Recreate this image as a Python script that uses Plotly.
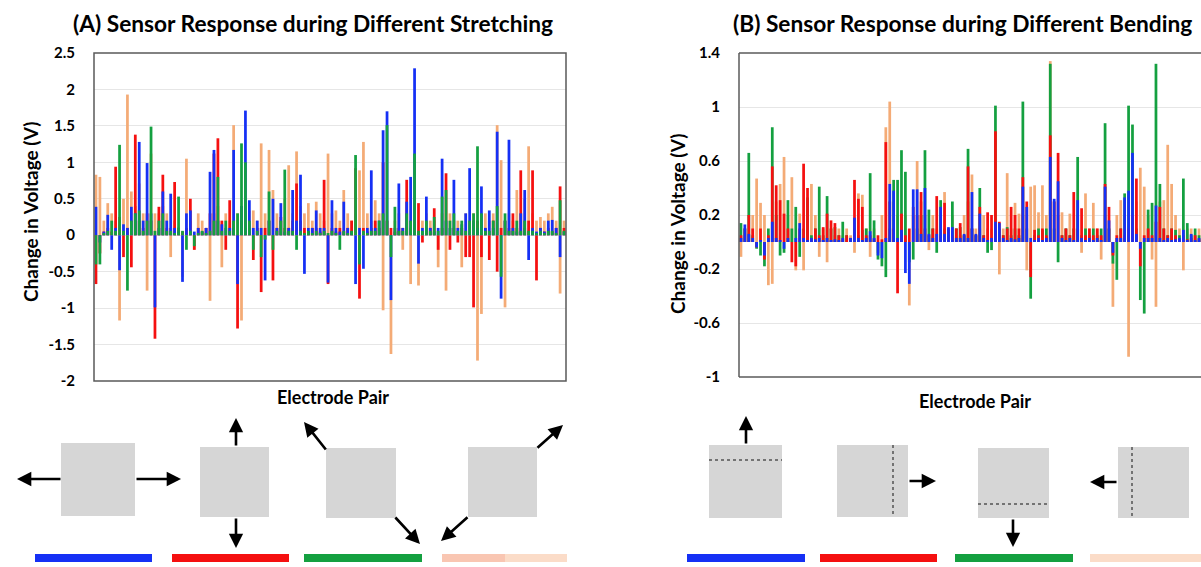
import plotly.graph_objects as go

# ---------------- data ----------------
# Panel A: stretching (120 electrode pairs)
a_blue = [0.39,-0.1,0.05,0.28,-0.2,0.1,-0.48,0.15,0.1,0.39,0.3,1.28,0.2,0.99,0.3,-0.99,0.1,0.6,0.2,0.57,
          0.1,0.05,-0.64,0.3,0.34,0.05,0.1,0.05,0.1,0.87,1.17,0.2,0.15,0.1,0.1,1.17,-0.67,0.4,1.71,0.48,
          0.1,0.2,0.1,-0.62,0.2,0.5,0.1,0.44,0.05,0.1,0.62,0.2,0.83,-0.53,0.1,0.1,0.34,0.1,0.1,-0.65,
          0.48,0.1,0.05,0.46,0.1,0.05,-0.67,0.1,-0.46,0.1,0.89,0.1,0.2,1.44,1.7,-0.89,0.1,0.71,0.1,0.46,
          0.8,2.29,-0.39,0.1,0.53,0.1,0.05,0.1,1.05,0.2,0.1,0.76,0.1,0.15,0.3,0.92,0.2,0.1,0.67,0.1,
          0.34,0.1,1.42,-0.87,0.2,1.31,0.1,0.05,0.3,0.62,-0.34,0.1,0.05,0.1,0.05,0.2,0.21,0.1,-0.3,0.05]
a_red = [-0.67,-0.25,0.05,0.1,0.05,0.94,0.25,-0.3,0.1,-0.44,1.38,0.2,0.1,0.3,0.2,-1.42,0.39,0.83,0.1,0.1,
         0.73,0.1,0.05,0.1,0.5,-0.2,0.1,0.05,0.1,0.3,1.12,1.33,0.2,-0.2,0.48,0.1,-1.28,0.2,0.1,0.1,
         -0.34,0.1,-0.78,0.1,0.2,-0.62,0.1,0.25,0.1,0.1,0.2,0.71,0.2,0.1,0.05,0.1,0.1,0.05,0.76,-0.67,
         0.1,0.05,0.1,0.05,0.1,0.2,0.92,-0.87,0.1,0.05,0.1,0.2,0.1,1.0,0.2,0.1,0.05,0.1,0.1,0.76,
         0.1,0.1,0.44,-0.1,0.1,0.1,0.37,-0.2,0.1,0.85,-0.2,0.1,-0.1,0.1,-0.3,-0.3,-0.99,0.2,-0.3,0.1,
         -0.34,0.2,-0.5,0.1,0.2,0.1,0.3,0.1,0.89,0.1,0.2,0.89,-0.62,0.1,0.05,0.1,0.05,0.1,0.67,0.1]
a_green = [-0.4,-0.4,0.03,0.06,0.2,0.06,1.24,0.06,-0.76,0.2,0.3,0.34,0.06,0.2,1.49,0.06,0.2,0.3,0.06,0.06,
           0.03,0.53,0.06,-0.2,0.06,-0.15,0.03,0.06,0.03,0.06,0.2,0.8,0.06,0.2,0.06,0.2,0.3,1.26,1.0,0.2,
           -0.2,0.06,-0.3,-0.06,0.6,-0.2,0.06,0.2,0.9,0.06,0.06,-0.2,0.06,0.03,0.06,0.03,0.06,0.03,0.06,0.03,
           0.06,0.03,-0.2,0.06,0.03,0.06,1.1,-0.4,0.06,0.03,0.06,0.06,0.2,0.3,1.51,-0.3,0.39,0.06,0.06,0.3,
           0.2,1.12,0.06,0.06,0.2,0.06,0.25,0.06,0.53,0.62,0.2,0.3,0.06,0.2,0.06,0.2,0.3,1.22,0.3,0.06,
           0.06,0.2,0.4,-0.57,0.3,0.06,0.06,0.2,0.06,0.2,0.06,0.06,0.03,0.06,0.03,0.06,0.06,0.03,0.48,0.06]
a_peach = [0.83,0.8,0.2,0.44,0.3,0.2,-1.17,0.5,1.93,0.6,0.4,0.71,0.3,-0.76,1.12,0.3,0.3,0.4,0.3,-0.3,
           0.2,0.11,-0.57,1.05,0.2,-0.2,0.3,0.2,0.1,-0.9,0.3,0.4,-0.44,0.3,0.2,1.51,0.3,-1.17,0.5,0.34,
           0.34,0.2,1.26,0.3,1.17,0.62,0.3,0.2,0.5,0.96,0.3,1.15,0.4,0.3,0.44,0.2,0.46,0.3,0.2,1.12,
           0.3,0.34,0.2,0.62,0.3,0.2,0.3,0.89,1.28,0.3,0.2,0.48,0.3,-1.03,0.2,-1.63,0.2,0.3,-0.2,0.3,
           -0.67,0.2,-0.69,0.2,0.3,0.2,0.2,-0.44,0.3,-0.76,0.3,0.2,0.2,-0.44,0.3,0.2,0.3,-1.72,-1.08,0.3,
           0.2,0.3,1.51,1.03,-0.99,0.3,0.2,0.62,0.3,0.5,1.22,0.3,0.2,0.25,0.2,0.3,0.39,0.2,-0.8,0.2]

# Panel B: bending (118 visible electrode pairs)
b_blue = [0.03,0.13,0.06,0.03,-0.04,0.01,-0.1,0.03,0.15,0.03,0.01,-0.05,0.03,0.0,0.03,0.14,0.03,0.01,0.03,0.02,
          0.03,0.01,0.03,0.01,0.02,0.01,0.03,0.0,0.03,0.18,0.03,0.01,0.03,0.08,0.03,-0.1,-0.12,0.03,0.43,0.38,
          0.03,0.09,-0.23,-0.31,0.39,0.39,0.06,0.4,0.06,0.03,0.06,0.26,0.06,0.11,0.11,0.03,0.03,0.06,0.03,0.37,
          0.06,0.21,0.03,0.01,0.03,0.15,0.14,0.03,0.01,0.03,0.02,0.03,0.41,0.26,0.03,0.01,0.03,0.01,0.03,0.63,
          0.32,0.45,0.03,0.01,0.03,0.01,0.31,0.03,0.01,0.03,0.01,0.03,0.01,0.41,0.16,-0.08,0.03,0.03,0.33,0.38,
          0.66,0.06,-0.05,0.03,0.03,0.03,0.27,0.03,0.01,0.03,0.01,0.02,0.03,0.09,0.01,0.06,0.01,0.03]
b_red = [0.05,0.1,0.2,0.1,-0.04,0.1,-0.13,0.05,0.56,0.42,0.31,0.21,0.1,-0.15,-0.18,0.1,0.58,0.4,0.01,0.1,
         0.05,0.11,0.21,0.16,0.14,0.05,0.02,0.05,0.03,0.46,0.32,0.26,0.05,0.05,0.02,0.05,0.02,0.74,0.3,0.1,
         -0.38,0.21,0.05,0.1,0.26,0.2,0.37,0.1,0.05,0.1,0.34,0.05,0.29,0.1,0.05,0.1,0.14,0.05,0.56,0.1,
         0.05,0.26,0.05,0.22,0.2,0.82,0.15,0.05,0.1,0.26,0.2,0.1,0.48,0.3,-0.26,0.09,0.05,0.1,0.05,0.79,
         0.3,0.66,0.05,0.1,0.05,0.37,0.1,0.25,0.05,0.1,0.05,0.1,0.05,0.43,0.26,-0.1,0.05,0.1,0.05,0.1,
         0.2,0.47,-0.18,0.05,0.1,0.05,0.15,0.26,0.1,0.05,0.1,0.05,0.02,0.05,0.02,0.03,0.05,0.02]
b_green = [0.14,0.1,0.66,0.05,-0.05,-0.1,-0.18,0.1,0.85,0.2,-0.1,-0.08,0.31,0.1,0.26,-0.11,0.1,0.33,0.05,0.1,
           0.41,0.05,0.34,0.1,0.11,0.05,0.15,0.05,0.02,0.1,0.05,0.09,0.1,0.51,0.16,-0.13,-0.18,-0.26,0.1,0.46,
           0.46,0.68,0.52,-0.15,-0.13,0.1,0.2,0.68,0.24,0.1,-0.08,0.31,0.1,0.05,0.3,0.1,0.11,0.05,0.69,0.1,
           0.05,0.4,0.05,-0.08,-0.06,1.01,0.1,0.05,0.11,0.05,0.1,0.05,1.04,0.1,-0.42,0.05,0.1,0.09,0.1,1.32,
           0.1,-0.15,0.05,0.1,0.05,0.1,0.63,0.05,0.1,0.05,0.1,0.05,0.1,0.88,0.1,-0.16,-0.28,0.1,0.36,1.01,
           0.87,0.1,-0.43,-0.53,0.24,0.29,1.32,0.43,0.1,0.05,0.1,0.09,0.05,0.47,0.14,0.05,0.1,0.05]
b_peach = [-0.11,0.1,0.05,0.2,0.47,0.29,0.2,-0.32,-0.31,0.3,0.43,0.63,0.2,0.48,-0.21,0.21,-0.21,0.3,0.43,0.2,
           -0.11,0.1,-0.15,0.1,0.05,0.1,0.05,0.1,0.05,-0.08,0.36,0.35,0.1,-0.11,0.1,-0.08,0.2,0.85,1.04,0.3,
           0.2,0.1,0.2,-0.47,0.2,0.6,0.3,0.2,-0.06,0.2,0.1,0.2,0.37,0.1,0.2,0.1,0.05,0.2,0.3,0.5,
           0.1,0.1,0.2,0.1,0.1,0.2,-0.24,0.1,0.51,0.1,0.29,0.21,0.2,-0.21,0.41,0.42,0.22,0.42,0.2,1.34,
           0.3,0.2,0.22,0.1,0.21,0.1,0.2,-0.08,0.36,0.1,0.29,0.1,-0.13,0.2,0.1,-0.48,0.2,0.31,0.2,-0.85,
           0.2,0.3,0.55,0.41,0.2,-0.13,-0.48,0.3,0.31,0.72,0.43,0.2,0.1,-0.21,0.1,0.1,0.05,0.1]

a_tickvals = [2.5, 2, 1.5, 1, 0.5, 0, -0.5, -1, -1.5, -2]
a_ticktext = ["2.5", "2", "1.5", "1", "0.5", "0", "-0.5", "-1", "-1.5", "-2"]
b_tickvals = [1.4, 1, 0.6, 0.2, -0.2, -0.6, -1]
b_ticktext = ["1.4", "1", "0.6", "0.2", "-0.2", "-0.6", "-1"]

title_a = "(A) Sensor Response during Different Stretching"
title_b = "(B) Sensor Response during Different Bending"
y_title = "Change in Voltage (V)"
x_title = "Electrode Pair"

# ---------------- styling ----------------
W, H = 1201, 567
FONT = "Lato"
C_BLUE, C_RED, C_GREEN, C_PEACH = "#1530f5", "#f51010", "#14a040", "#f4ab76"


def px(x):
    return x / W


def py(y):
    return 1 - y / H


fig = go.Figure()

xa = list(range(len(a_blue)))
xb = list(range(len(b_blue)))

# panel A: back-to-front peach, red, blue, green
for vals, col in [(a_peach, C_PEACH), (a_red, C_RED), (a_blue, C_BLUE), (a_green, C_GREEN)]:
    fig.add_trace(go.Bar(x=xa, y=vals, marker=dict(color=col, line=dict(width=0)),
                         xaxis="x", yaxis="y", showlegend=False))
# panel B: back-to-front peach, green, red, blue
for vals, col in [(b_peach, C_PEACH), (b_green, C_GREEN), (b_red, C_RED), (b_blue, C_BLUE)]:
    fig.add_trace(go.Bar(x=xb, y=vals, marker=dict(color=col, line=dict(width=0)),
                         xaxis="x2", yaxis="y2", showlegend=False))

tickfont = dict(family=FONT, size=15, color="#000000", weight="bold")
common_x = dict(showticklabels=False, ticks="", showgrid=False, zeroline=False, showline=False,
                automargin=False)
common_y = dict(showgrid=True, gridcolor="#e6e6e6", gridwidth=1, zeroline=False, showline=False,
                ticks="", tickfont=tickfont, ticklabelstandoff=18, automargin=False)

fig.update_layout(
    template="none",
    width=W, height=H, margin=dict(l=0, r=0, t=0, b=0, pad=0, autoexpand=False),
    paper_bgcolor="white", plot_bgcolor="white", showlegend=False,
    barmode="overlay", bargap=0.3,
    xaxis=dict(domain=[px(94), px(566)], range=[-0.5, len(a_blue) - 0.5], anchor="y", **common_x),
    yaxis=dict(domain=[py(381), py(53)], range=[-2, 2.5], anchor="x",
               tickvals=a_tickvals, ticktext=a_ticktext, **common_y),
    xaxis2=dict(domain=[px(739), 1.0], range=[-0.5, len(b_blue) - 0.5], anchor="y2", **common_x),
    yaxis2=dict(domain=[py(377), py(53)], range=[-1, 1.4], anchor="x2",
                tickvals=b_tickvals, ticktext=b_ticktext, **common_y),
)

shapes = []
FRAME = "#5a5a5a"
# plot frames
shapes.append(dict(type="rect", xref="paper", yref="paper", x0=px(94), x1=px(566), y0=py(381), y1=py(53),
                   line=dict(color=FRAME, width=1.5), fillcolor="rgba(0,0,0,0)", layer="above"))
for (x0, y0, x1, y1) in [(739, 53, 739, 377), (739, 53, 1210, 53), (739, 377, 1210, 377)]:
    shapes.append(dict(type="line", xref="paper", yref="paper", x0=px(x0), x1=px(x1), y0=py(y0), y1=py(y1),
                       line=dict(color=FRAME, width=1.5), layer="above"))

# schematic squares
SQ = "#d6d6d6"
squares = [(61, 443, 135, 516), (200, 447, 269, 517), (326, 448, 396, 518), (468, 447, 537, 517),
           (709, 445, 782, 518), (837, 445, 908, 517), (978, 448, 1049, 518), (1118, 447, 1189, 518)]
for (x0, y0, x1, y1) in squares:
    shapes.append(dict(type="rect", xref="paper", yref="paper", x0=px(x0), x1=px(x1), y0=py(y1), y1=py(y0),
                       line=dict(width=0), fillcolor=SQ))
# fold lines (dashed)
folds = [(709, 460, 782, 460), (893, 445, 893, 517), (978, 504, 1049, 504), (1132, 447, 1132, 518)]
for (x0, y0, x1, y1) in folds:
    shapes.append(dict(type="line", xref="paper", yref="paper", x0=px(x0), x1=px(x1), y0=py(y0), y1=py(y1),
                       line=dict(color="#111111", width=1, dash="dot")))

# colour keys
keys = [(35, 152, C_BLUE), (172, 289, C_RED), (304, 422, C_GREEN), (442, 505, "#f9c6b2"), (505, 567, "#fbdcc8"),
        (687, 805, C_BLUE), (820, 937, C_RED), (955, 1073, C_GREEN), (1090, 1201, "#fbdcc8")]
for (x0, x1, col) in keys:
    shapes.append(dict(type="rect", xref="paper", yref="paper", x0=px(x0), x1=px(x1), y0=py(562), y1=py(554),
                       line=dict(width=0), fillcolor=col))

fig.update_layout(shapes=shapes)

annotations = []
# titles
annotations.append(dict(text=title_a, x=px(313), y=py(23), xref="paper", yref="paper", showarrow=False,
                        xanchor="center", yanchor="middle",
                        font=dict(family=FONT, size=22.7, color="#000000", weight="bold")))
annotations.append(dict(text=title_b, x=px(962), y=py(23), xref="paper", yref="paper", showarrow=False,
                        xanchor="center", yanchor="middle",
                        font=dict(family=FONT, size=22.7, color="#000000", weight="bold")))
# axis titles
for (x, y, t, ang, sz) in [(30, 212, y_title, -90, 19), (333, 397, x_title, 0, 18),
                           (677, 224, y_title, -90, 19), (975, 401, x_title, 0, 18)]:
    annotations.append(dict(text=t, x=px(x), y=py(y), xref="paper", yref="paper", showarrow=False,
                            xanchor="center", yanchor="middle", textangle=ang,
                            font=dict(family=FONT, size=sz, color="#000000", weight="bold")))

# arrows (tail -> tip)
arrows = [((62, 479), (17, 479)), ((135, 479), (181, 479)), ((236, 447), (236, 418)), ((236, 517), (236, 548)),
          ((327, 451), (304, 422)), ((394, 516), (420, 544)), ((536, 449), (563, 425)), ((469, 516), (441, 541)),
          ((746, 445), (746, 416)), ((908, 481), (936, 481)), ((1013, 518), (1013, 547)), ((1118, 482), (1090, 482))]
for (tail, tip) in arrows:
    annotations.append(dict(text="", x=px(tip[0]), y=py(tip[1]), xref="paper", yref="paper",
                            ax=tail[0] - tip[0], ay=tail[1] - tip[1], showarrow=True,
                            arrowhead=2, arrowsize=1.1, arrowwidth=2.6, arrowcolor="#000000", standoff=0))

fig.update_layout(annotations=annotations)

fig.write_html("out.html", config={"displayModeBar": False},
               post_script="document.body.style.margin='0px';document.body.style.overflow='hidden';")
